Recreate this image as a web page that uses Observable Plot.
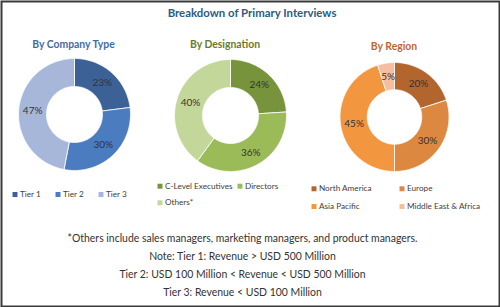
<!DOCTYPE html>
<html><head><meta charset="utf-8">
<script src="https://cdn.jsdelivr.net/npm/d3@7"></script>
<script src="https://cdn.jsdelivr.net/npm/@observablehq/plot@0.6"></script>
<style>body{margin:0;background:#fff}</style>
</head><body><div id="chart"></div>
<script>
// ---- data ----
const title = "Breakdown of Primary Interviews";
const panelTitles = ["By Company Type", "By Designation", "By Region"];
const companyLabels = ["Tier 1", "Tier 2", "Tier 3"];
const companyValues = [23, 30, 47];
const designationLabels = ["C-Level Executives", "Directors", "Others*"];
const designationValues = [24, 36, 40];
const regionLabels = ["North America", "Europe", "Asia Pacific", "Middle East & Africa"];
const regionValues = [20, 30, 45, 5];
const footnotes = [
  "*Others include sales managers, marketing managers, and product managers.",
  "Note: Tier 1: Revenue > USD 500 Million",
  "Tier 2: USD 100 Million < Revenue < USD 500 Million",
  "Tier 3: Revenue < USD 100 Million"
];

// ---- styles / layout ----
const W = 500, H = 307;
const FONT = "Lato, 'Open Sans', sans-serif";
const panels = [
  {labels: companyLabels, values: companyValues,
   colors: ["#3b6197", "#4a7cbf", "#a7b7da"],
   cx: 74, cy: 114, r: 56, title: panelTitles[0], tx: 73, ty: 44, tcolor: "#3f6ca8",
   legend: [[14.5, 194], [57.5, 194], [100.5, 194]]},
  {labels: designationLabels, values: designationValues,
   colors: ["#77933c", "#9bbb59", "#c4d79b"],
   cx: 230, cy: 115, r: 56, title: panelTitles[1], tx: 224.5, ty: 44, tcolor: "#6a7a2c",
   legend: [[159.5, 185.7], [239.5, 185.7], [159.5, 202.3]]},
  {labels: regionLabels, values: regionValues,
   colors: ["#b3652e", "#dc8840", "#f2963f", "#f6bea0"],
   cx: 394, cy: 116.5, r: 54.5, title: panelTitles[2], tx: 393.5, ty: 46, tcolor: "#c0662c",
   legend: [[313.5, 188.3], [401.5, 188.3], [313.5, 206], [401.5, 206]]}
];

// ---- geometry from values ----
const slicePts = [], pctLabels = [], legendItems = [];
panels.forEach((p, pi) => {
  const total = d3.sum(p.values);
  const rin = p.r * 0.5;
  let acc = 0;
  p.values.forEach((v, i) => {
    const a0 = acc / total * 2 * Math.PI, a1 = (acc + v) / total * 2 * Math.PI;
    acc += v;
    const key = pi + "-" + i;
    const n = Math.max(2, Math.ceil((a1 - a0) / (Math.PI / 180)));
    const ring = [];
    for (let k = 0; k <= n; k++) { const a = a0 + (a1 - a0) * k / n; ring.push([p.cx + p.r * Math.sin(a), p.cy - p.r * Math.cos(a)]); }
    for (let k = n; k >= 0; k--) { const a = a0 + (a1 - a0) * k / n; ring.push([p.cx + rin * Math.sin(a), p.cy - rin * Math.cos(a)]); }
    ring.push(ring[0]);
    ring.forEach(([x, y]) => slicePts.push({x, y, key, color: p.colors[i]}));
    const am = (a0 + a1) / 2, rm = (p.r + rin) / 2;
    pctLabels.push({x: p.cx + rm * Math.sin(am), y: p.cy - rm * Math.cos(am), text: Math.round(v / total * 100) + "%"});
    legendItems.push({x: p.legend[i][0], y: p.legend[i][1], text: p.labels[i], color: p.colors[i]});
  });
});

const chart = Plot.plot({
  width: W, height: H,
  margin: 0,
  x: {domain: [0, W], range: [0, W], axis: null},
  y: {domain: [0, H], range: [0, H], axis: null},
  color: {type: "identity"},
  style: {background: "#fff"},
  marks: [
    Plot.frame({inset: 1, stroke: "#3a3a3a", strokeWidth: 2}),
    Plot.text([title], {x: 251.5, y: 13, text: d => d, fontFamily: FONT, fontWeight: "bold", fontSize: 11.4, fill: "#2a5d87"}),
    Plot.text(panels, {x: "tx", y: "ty", text: "title", fill: "tcolor", fontFamily: FONT, fontWeight: "bold", fontSize: 10.4}),
    Plot.line(slicePts, {x: "x", y: "y", z: "key", fill: "color", stroke: "#fff", strokeWidth: 0.8}),
    Plot.text(pctLabels, {x: "x", y: "y", text: "text", fontFamily: FONT, fontSize: 10, fill: "#333"}),
    Plot.dot(legendItems, {x: "x", y: "y", symbol: "square", r: 2.8, fill: "color"}),
    Plot.text(legendItems, {x: d => d.x + 5, y: "y", text: "text", textAnchor: "start", fontFamily: FONT, fontSize: 8.2, fill: "#404040"}),
    Plot.text(footnotes, {x: 242, y: (d, i) => 237.7 + i * 18.2, text: d => d, fontFamily: FONT, fontSize: 10.45, fill: "#333"})
  ]
});
document.getElementById("chart").append(chart);
</script>
</body></html>
